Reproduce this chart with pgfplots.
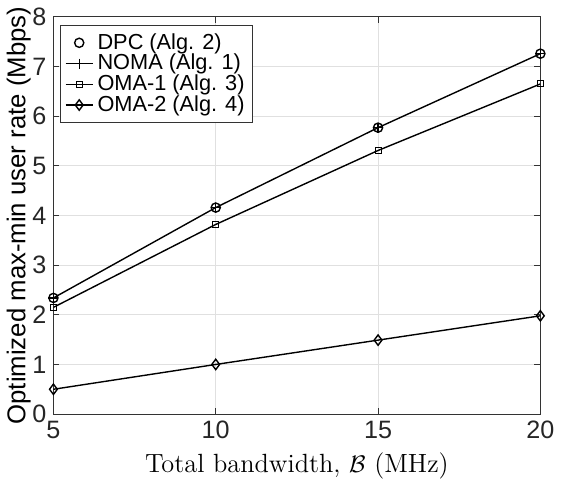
\documentclass[border=0pt]{standalone}
\usepackage{fontspec}
\usepackage{pgfplots}
\pgfplotsset{compat=1.18}
\newfontfamily\hel{Liberation Sans}

\begin{document}
\begin{tikzpicture}
\begin{axis}[
  width=244pt, height=199pt, scale only axis,
  xmin=5, xmax=20, ymin=0, ymax=8,
  xtick={5,10,15,20}, ytick={0,1,...,8},
  grid=major,
  major grid style={draw=black!12, line width=0.5pt},
  axis line style={draw=black!80, line width=0.5pt},
  tick style={draw=black!80, line width=0.5pt},
  tick align=inside, major tick length=3pt,
  tick label style={font=\fontsize{12.6}{14}\hel, text=black!85},
  /pgf/number format/assume math mode=true,
  xlabel={Total bandwidth, $\mathcal{B}$ (MHz)},
  xlabel style={font=\fontsize{13.2}{15}\selectfont, yshift=0pt},
  ylabel={Optimized max-min user rate (Mbps)},
  ylabel style={font=\fontsize{12.9}{15}\hel, yshift=-6pt},
  legend cell align=left,
  legend style={font=\fontsize{10.9}{12}\hel, at={(0,1)}, anchor=north west,
                xshift=3.5pt, yshift=-4pt, draw=black!80, line width=0.5pt,
                inner sep=2pt, row sep=-3pt,
                /tikz/every even column/.append style={column sep=0pt}},
  legend image code/.code={\draw[mark repeat=2,mark phase=2]
    plot coordinates {(0cm,0cm) (0.24cm,0cm) (0.48cm,0cm)};},
  every axis plot/.append style={line width=0.7pt, black},
]
\addplot[only marks, mark=o, mark size=2.3pt] coordinates {(5,2.34) (10,4.16) (15,5.77) (20,7.26)};
\addplot[mark=+, mark size=2.5pt] coordinates {(5,2.34) (10,4.16) (15,5.77) (20,7.26)};
\addplot[mark=square, mark size=1.5pt, mark options={line width=0.5pt}] coordinates {(5,2.15) (10,3.82) (15,5.31) (20,6.65)};
\addplot[mark=diamond, mark size=2.6pt] coordinates {(5,0.50) (10,1.00) (15,1.49) (20,1.98)};
\legend{DPC (Alg. 2), NOMA (Alg. 1), OMA-1 (Alg. 3), OMA-2 (Alg. 4)}
\end{axis}
\end{tikzpicture}
\end{document}
